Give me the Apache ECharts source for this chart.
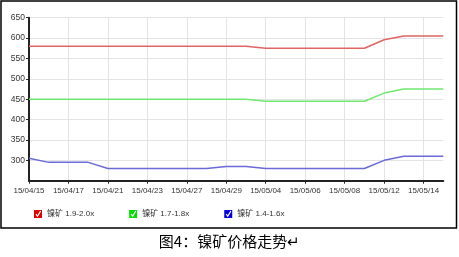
<!DOCTYPE html>
<html><head><meta charset="utf-8">
<script src="https://cdn.jsdelivr.net/npm/echarts@6/dist/echarts.min.js"></script>
<style>html,body{margin:0;padding:0;background:#fff}#c{width:459px;height:257px}</style>
</head><body><div id="c"></div>
<script>
const dates = ['15/04/15','15/04/16','15/04/17','15/04/20','15/04/21','15/04/22','15/04/23','15/04/24','15/04/27','15/04/28','15/04/29','15/04/30','15/05/04','15/05/05','15/05/06','15/05/07','15/05/08','15/05/11','15/05/12','15/05/13','15/05/14','15/05/15'];
const seriesNames = ['镍矿 1.9-2.0x','镍矿 1.7-1.8x','镍矿 1.4-1.6x'];
const nickel19_20 = [580,580,580,580,580,580,580,580,580,580,580,580,575,575,575,575,575,575,596,605,605,605];
const nickel17_18 = [450,450,450,450,450,450,450,450,450,450,450,450,445,445,445,445,445,445,465,475,475,475];
const nickel14_16 = [305,295,295,295,280,280,280,280,280,280,285,285,280,280,280,280,280,280,300,310,310,310];
const yTicks = [250,300,350,400,450,500,550,600,650];
const caption = '图4：镍矿价格走势';
const colors = ['#e06464','#70e870','#6a6ad8'];
const iconColors = ['#e00000','#00e000','#0000e0'];

const checkIcon = 'path://M0,0L10,0L10,10L0,10Z M1.8,5.4L4.4,9.2L9,1.6L7.6,0.9L4.3,6.6L3.2,4.6Z';
const font = '"Liberation Sans Narrow","Liberation Sans","Noto Sans CJK SC",sans-serif';

const chart = echarts.init(document.getElementById('c'), null, {renderer:'canvas'});
const dataSets = [nickel19_20, nickel17_18, nickel14_16];
chart.setOption({
  animation:false,
  grid:{left:29,top:17.7,right:15.7,bottom:76.3,containLabel:false},
  xAxis:{
    type:'category', data:dates, boundaryGap:false,
    axisLine:{lineStyle:{color:'#222',width:2}},
    axisTick:{show:true,interval:1,length:3,lineStyle:{color:'#222'}},
    axisLabel:{interval:1,fontSize:8,color:'#333',fontFamily:font,margin:6},
    splitLine:{show:true,interval:1,lineStyle:{color:'#e4e4e4',width:1}}
  },
  yAxis:{
    type:'value', min:yTicks[0], max:yTicks[yTicks.length-1], interval:50,
    axisLine:{show:true,lineStyle:{color:'#222',width:2}},
    axisTick:{show:true,length:3,lineStyle:{color:'#222'}},
    axisLabel:{fontSize:8.5,color:'#333',fontFamily:font,margin:4,showMinLabel:false},
    splitLine:{show:true,lineStyle:{color:'#e4e4e4',width:1}}
  },
  legend:{
    left:29, top:205, itemWidth:8, itemHeight:9, itemGap:35, orient:'horizontal',
    data:seriesNames.map((n,i)=>({name:n,icon:checkIcon,itemStyle:{color:iconColors[i],borderWidth:0,opacity:1}})),
    textStyle:{fontSize:8,color:'#333',fontFamily:font},
    selectedMode:false
  },
  series: seriesNames.map((n,i)=>({
    name:n, type:'line', data:dataSets[i], showSymbol:false, symbol:'none',
    lineStyle:{color:colors[i],width:1.5}, itemStyle:{color:colors[i]}
  })),
  graphic:[
    {type:'rect',shape:{x:1,y:1,width:455.5,height:227},style:{fill:'none',stroke:'#000',lineWidth:1.5},silent:true},
    {type:'text',left:'center',top:234,style:{text:caption+'↵',font:'15px "Noto Sans CJK SC", sans-serif',fill:'#000'}}
  ]
});
</script></body></html>
